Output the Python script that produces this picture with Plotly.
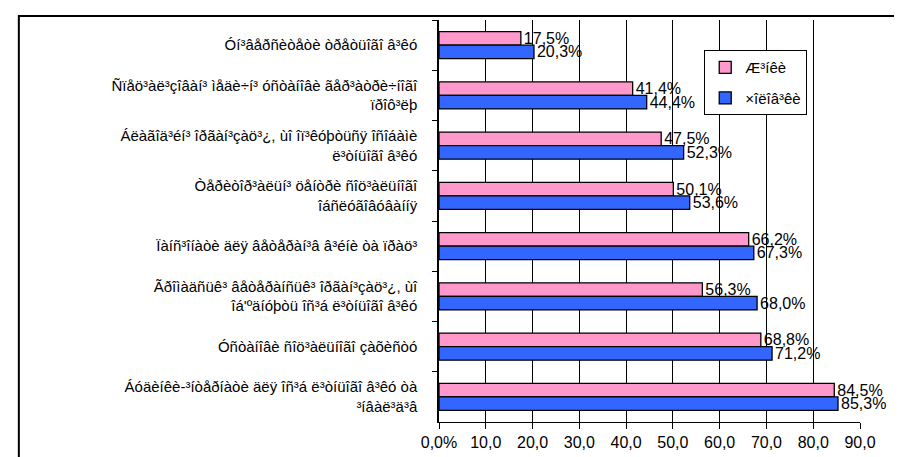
import plotly.graph_objects as go

# Original Ukrainian texts; the reference shows them as CP1251 bytes read as Latin-1
categories_uk = [
    "Університети третього віку",
    "Спеціалізовані медичні установи геріатричного<br>профілю",
    "Благодійні організації, що опікуються особами<br>літнього віку",
    "Територіальні центри соціального<br>обслуговування",
    "Пансіонати для ветеранів війни та праці",
    "Громадські ветеранські організації, що<br>об'єднують осіб літнього віку",
    "Установи соціального захисту",
    "Будинки-інтернати для осіб літнього віку та<br>інвалідів",
]
series_names_uk = ["Жінки", "Чоловіки"]

women = [17.5, 41.4, 47.5, 50.1, 66.2, 56.3, 68.8, 84.5]
men = [20.3, 44.4, 52.3, 53.6, 67.3, 68.0, 71.2, 85.3]

x_tickvals = [0, 10, 20, 30, 40, 50, 60, 70, 80, 90]
x_ticktext = ["0,0%", "10,0", "20,0", "30,0", "40,0", "50,0", "60,0", "70,0", "80,0", "90,0"]


def shown(s):
    return "<br>".join(p.encode("cp1251").decode("latin-1") for p in s.split("<br>"))


categories = [shown(c) for c in categories_uk]
series_names = [shown(s) for s in series_names_uk]

FONT = "Liberation Sans, Arial"

fig = go.Figure()
for name, vals, col, grp in [
    (series_names[0], women, "#FF99CC", "a"),
    (series_names[1], men, "#3366FF", "b"),
]:
    fig.add_trace(go.Bar(
        y=categories, x=vals, name=name, orientation="h",
        marker=dict(color=col, line=dict(color="black", width=1.3)),
        text=[f"{v:.1f}%".replace(".", ",") for v in vals],
        textposition="outside", constraintext="none", cliponaxis=False,
        textfont=dict(family=FONT, size=16, color="black"),
        legendgroup=grp,
    ))

fig.update_layout(
    width=902, height=457,
    margin=dict(l=431, r=50, t=12, b=43),
    paper_bgcolor="white", plot_bgcolor="white",
    barmode="group", bargap=0.46, bargroupgap=0,
    font=dict(family=FONT, size=15, color="black"),
    legend=dict(
        x=0.63, y=0.925, xanchor="left", yanchor="top",
        bordercolor="black", borderwidth=1, bgcolor="white",
        font=dict(size=15), tracegroupgap=8,
        itemwidth=30,
    ),
    showlegend=True,
)
fig.update_xaxes(
    range=[0, 90], tickvals=x_tickvals, ticktext=x_ticktext,
    showgrid=True, gridcolor="black", gridwidth=1,
    showline=True, linecolor="black", linewidth=1,
    ticks="outside", ticklen=6, tickcolor="black",
    tickfont=dict(size=16), zeroline=False,
)
fig.update_yaxes(
    autorange="reversed", showgrid=False,
    showline=True, linecolor="black", linewidth=1.5,
    ticks="outside", ticklen=5, tickcolor="black", tickson="boundaries",
    tickfont=dict(size=15), ticklabelstandoff=17,
)
fig.add_shape(
    type="rect", xref="paper", yref="paper",
    x0=-0.998, x1=1.14, y0=-0.0945, y1=1.0100,
    line=dict(color="black", width=2), fillcolor="rgba(0,0,0,0)", layer="above",
)
fig.write_html("out.html")
